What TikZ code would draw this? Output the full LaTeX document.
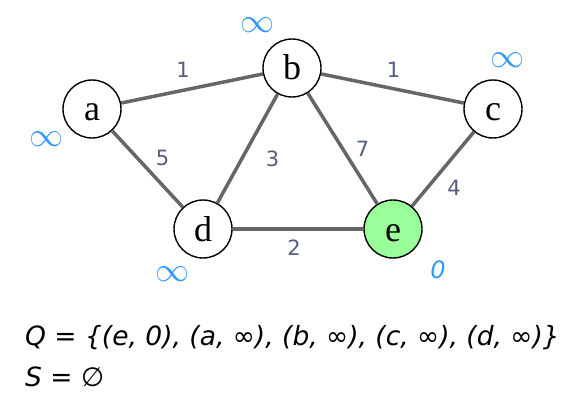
\RequirePackage{fix-cm}
\documentclass[tikz,border=0pt]{standalone}
\usepackage{amsmath}
\usepackage{amssymb}
\usepackage{fontspec}
\usepackage{tikz}
\usetikzlibrary{arrows,shapes}
\newfontfamily\vertexfont{Liberation Serif}
\newfontfamily\weightfont{DejaVu Sans}

\begin{document}
\begin{tikzpicture}[x=1pt,y=-1pt,line join=bevel,
	vertex/.style={draw=black,line width=1.4pt,fill=white,circle,minimum size=58pt,inner sep=0pt,
		text height=24pt,text depth=0pt,font=\vertexfont\fontsize{36}{36}\selectfont},
	edge/.style={draw=edgecol,line width=3.5pt},
	weight/.style={text=weightcol,inner sep=0pt,font=\weightfont\fontsize{21}{21}\selectfont},
	dist/.style={text=distcol,inner sep=0pt,font=\fontsize{34}{34}\selectfont},
	]
	%%
	\definecolor{edgecol}{rgb}{0.4,0.4,0.4}
	\definecolor{weightcol}{rgb}{0.33,0.37,0.5}
	\definecolor{distcol}{rgb}{0.2,0.6,1.0}
	\definecolor{sourcecol}{rgb}{0.6,1.0,0.6}
	\useasboundingbox (0,0) rectangle (584,420);

	\node (a) at (92,109) [vertex] {a};
	  \node (b) at (292,68) [vertex] {b};
	  \node (c) at (493,109) [vertex] {c};
	  \node (d) at (203,229) [vertex] {d};
	  \node (e) at (393,229) [vertex,fill=sourcecol] {e};

	  \draw [edge] (a) -- node[weight,xshift=-9pt,yshift=19pt]{1}(b);
	  \draw [edge] (b) -- node[weight,xshift=1pt,yshift=19pt]{1}(c);
	  \draw [edge] (a) -- node[weight,xshift=15pt,yshift=11pt]{5}(d);
	  \draw [edge] (b) -- node[weight,xshift=25pt,yshift=-10pt]{3}(d);
	  \draw [edge] (b) -- node[weight,xshift=20pt,yshift=0pt]{7}(e);
	  \draw [edge] (c) -- node[weight,xshift=11pt,yshift=-19pt]{4}(e);
	  \draw [edge] (d) -- node[weight,xshift=-4pt,yshift=-19pt]{2}(e);

	  % distances
	  \node (da) at (47,139) [dist] {$\infty$};
	  \node (db) at (257,25) [dist] {$\infty$};
	  \node (dc) at (507,60) [dist] {$\infty$};
	  \node (dd) at (172,274) [dist] {$\infty$};
	  \node (de) at (438,270) [dist,font=\weightfont\itshape\fontsize{24}{24}\selectfont] {0};

	  \node (q) at (25,345) [anchor=base west,inner sep=0pt,font=\weightfont\itshape\fontsize{26.5}{26.5}\selectfont] {Q = \{(e, 0), (a, ∞), (b, ∞), (c, ∞), (d, ∞)\}};
	  \node (s) at (25,386) [anchor=base west,inner sep=0pt,font=\weightfont\itshape\fontsize{26.5}{26.5}\selectfont] {S = ∅};
	%
	\end{tikzpicture}
\end{document}
